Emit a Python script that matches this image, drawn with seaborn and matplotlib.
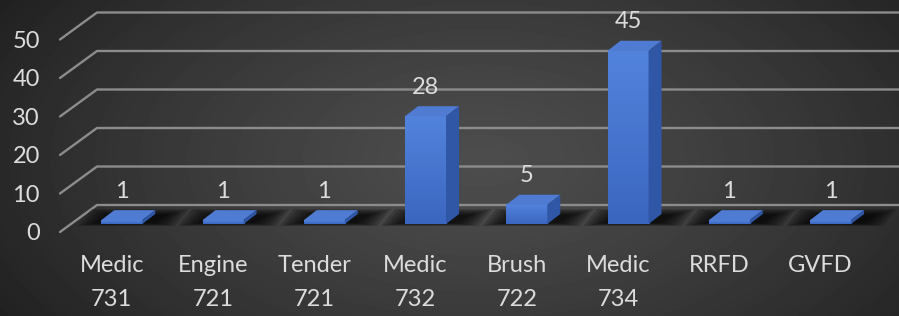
import numpy as np
import matplotlib
matplotlib.use("Agg")
import matplotlib.pyplot as plt
import seaborn as sns
from matplotlib.patches import Polygon
from matplotlib.lines import Line2D
from matplotlib.colors import LinearSegmentedColormap
from matplotlib.transforms import IdentityTransform, ScaledTranslation

# data
units = ["Medic\n731", "Engine\n721", "Tender\n721", "Medic\n732",
         "Brush\n722", "Medic\n734", "RRFD", "GVFD"]
calls = [1, 1, 1, 28, 5, 45, 1, 1]
y_ticks = [0, 10, 20, 30, 40, 50]

W, H, DPI = 899, 316, 100
TXT = "#dcdcdc"
FRONT = "#4574cf"
TOP = "#4f7bd2"
SIDE = "#2f57a6"
GRID = "#8c8c8c"
FS = 17

# fake 3d offsets in pixels
BAR_DX, BAR_DY = 13, 10      # bar depth
WALL_DX, WALL_DY = 37, 19    # back wall vs bar front
EDGE_DY = -8                 # front floor edge vs bar front

sns.set_theme(style="white")
plt.rcParams["font.family"] = ["Lato", "DejaVu Sans"]

fig = plt.figure(figsize=(W / DPI, H / DPI), dpi=DPI)

# --- background: dark radial gradient ---
bg = fig.add_axes([0, 0, 1, 1], zorder=-10)
yy, xx = np.mgrid[0:H, 0:W]
r = np.sqrt(((xx - 480) / 560) ** 2 + ((yy - 160) / 300) ** 2)
shade = 0.30 - 0.17 * np.clip(r, 0, 1) ** 1.3
bg.imshow(shade, cmap="gray", vmin=0, vmax=1, aspect="auto")
bg.axis("off")

# --- main axes ---
ax = fig.add_axes([60 / W, 84 / H, 839 / W, 232 / H])
ax.patch.set_alpha(0)
sns.barplot(x=units, y=calls, color=FRONT, saturation=1, width=0.405,
            linewidth=0, edgecolor="none", ax=ax, zorder=3)
ax.set_xlim(-0.61, 7.676)
ax.set_ylim(-2.078, 58.18)
sns.despine(ax=ax, left=True, bottom=True)

to_disp = ax.transData.transform

# back wall gridlines with the diagonal floor/side edge
x_left, x_right = ax.bbox.x0, ax.bbox.x1
for v in y_ticks:
    yd = to_disp((0, v))[1]
    ln = Line2D([x_left, x_left + WALL_DX, x_right],
                [yd + EDGE_DY, yd + WALL_DY, yd + WALL_DY],
                transform=IdentityTransform(), color=GRID, lw=1.7,
                clip_on=False, zorder=0.5)
    ax.add_artist(ln)

grad_cmap = LinearSegmentedColormap.from_list("bar", ["#3b66c0", "#5283dc"])
grad = np.linspace(0, 1, 100).reshape(-1, 1)

for p, v in zip(ax.patches, calls):
    x0, w, h = p.get_x(), p.get_width(), p.get_height()
    X0, Y0 = to_disp((x0, 0))
    X1, Y1 = to_disp((x0 + w, h))

    # soft floor shadow
    for k in range(7):
        grow = 24 - 3.5 * k
        shadow = Polygon([(X0 - grow, Y0 - 2 + k * 0.5), (X1 + grow + 8, Y0 - 2 + k * 0.5),
                          (X1 + grow + 22, Y0 + 15 - k), (X0 - grow + 14, Y0 + 15 - k)],
                         closed=True, transform=IdentityTransform(), facecolor="black",
                         edgecolor="none", alpha=0.17, clip_on=False, zorder=1)
        ax.add_artist(shadow)

    # front gradient
    ax.imshow(grad, extent=[x0, x0 + w, 0, h], origin="lower", cmap=grad_cmap,
              aspect="auto", zorder=3.1)

    top = Polygon([(X0, Y1), (X1, Y1), (X1 + BAR_DX, Y1 + BAR_DY), (X0 + BAR_DX, Y1 + BAR_DY)],
                  closed=True, transform=IdentityTransform(), facecolor=TOP,
                  edgecolor="none", clip_on=False, zorder=3.2)
    side = Polygon([(X1, Y0), (X1 + BAR_DX, Y0 + BAR_DY), (X1 + BAR_DX, Y1 + BAR_DY), (X1, Y1)],
                   closed=True, transform=IdentityTransform(), facecolor=SIDE,
                   edgecolor="none", clip_on=False, zorder=3.2)
    ax.add_artist(top)
    ax.add_artist(side)

    ax.annotate(str(v), (x0 + w / 2, h), xytext=(0, 29 * 72 / DPI), textcoords="offset points",
                ha="center", va="center", color=TXT, fontsize=FS, zorder=5)

ax.set_xlim(-0.61, 7.676)
ax.set_ylim(-2.078, 58.18)

# ticks
ax.set_yticks(y_ticks)
ax.set_yticklabels([str(t) for t in y_ticks])
ax.tick_params(axis="y", length=0, pad=20 * 72 / DPI, labelsize=FS, labelcolor=TXT)
ax.tick_params(axis="x", length=0, pad=23 * 72 / DPI, labelsize=FS, labelcolor=TXT)
ax.set_xlabel("")
ax.set_ylabel("")

shift_y = ScaledTranslation(0, -8 / DPI, fig.dpi_scale_trans)
for lab in ax.get_yticklabels():
    lab.set_transform(lab.get_transform() + shift_y)
shift_x = ScaledTranslation(-10 / DPI, 0, fig.dpi_scale_trans)
for lab in ax.get_xticklabels():
    lab.set_transform(lab.get_transform() + shift_x)
    lab.set_linespacing(1.75)

fig.savefig("out.png", dpi=DPI)
